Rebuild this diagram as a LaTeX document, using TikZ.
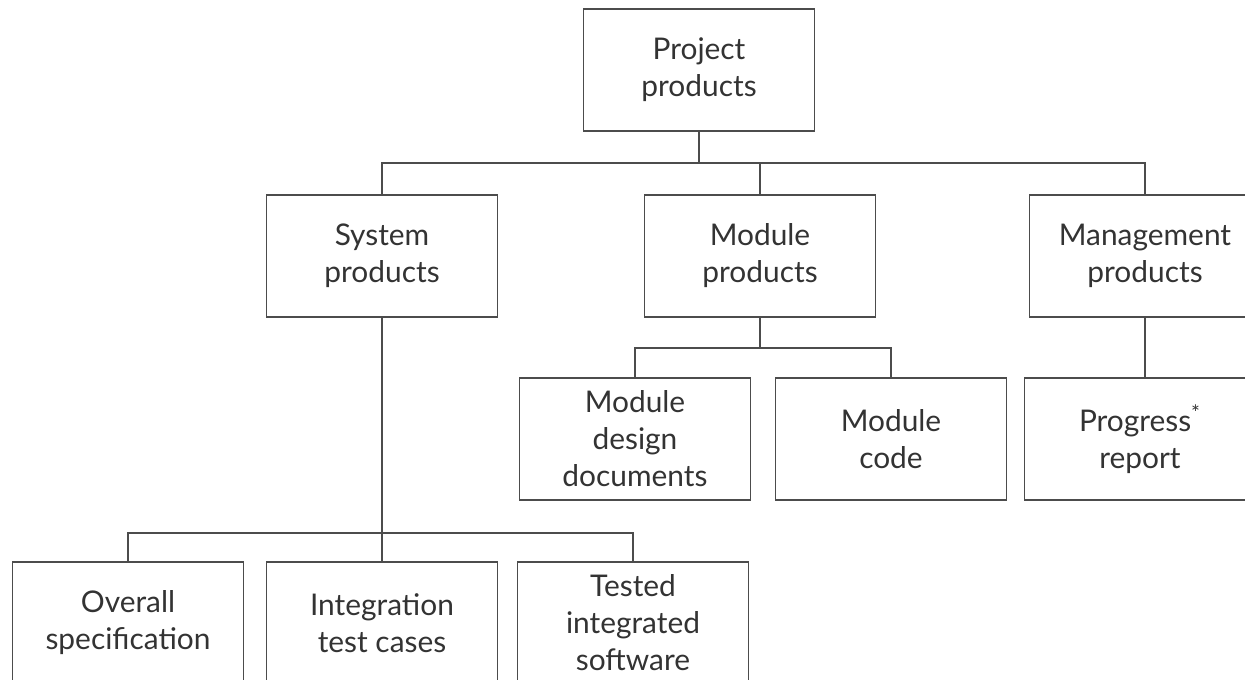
\documentclass[tikz,border=0pt]{standalone}
\usepackage{fontspec}
\setmainfont{Lato}
\usetikzlibrary{calc}
\tikzset{prodbox/.style={draw=black!70, line width=1pt, minimum width=4.62cm, minimum height=2.44cm, align=center, inner sep=0pt, text=black!80, font=\fontsize{17}{21}\selectfont}}
\tikzset{link/.style={draw=black!70, line width=1pt}}

\begin{document}
\begin{tikzpicture}[x=0.02cm,y=-0.02cm]
	\useasboundingbox (0,0) rectangle (1245,680);
	\clip (0,0) rectangle (1245,680);
	\node[prodbox] (proj) at (699,70) {Project\\products};
	\node[prodbox] (sys) at (382,256) {System\\products};
	\node[prodbox] (mod) at (760,256) {Module\\products};
	\node[prodbox] (mgmt) at (1145,256) {Management\\products};
	\node[prodbox] (mdd) at (635,439) {Module\\design\\documents};
	\node[prodbox] (mcode) at (891,439) {Module\\code};
	\node[prodbox] (prog) at (1140,439) {Progress\textsuperscript{*}\\report};
	\node[prodbox] (spec) at (128,623) {Overall\\specification};
	\node[prodbox] (itc) at (382,623) {Integration\\test cases};
	\node[prodbox] (tis) at (633,623) {Tested\\integrated\\software};

	\coordinate (bus1) at (699,163);
	\coordinate (bus2) at (760,348);
	\coordinate (bus3) at (382,533);

	\draw[link] (proj.south) -- (bus1);
	\draw[link] (sys.north) |- (bus1) -| (mgmt.north);
	\draw[link] (bus1 -| mod.north) -- (mod.north);

	\draw[link] (mod.south) -- (bus2);
	\draw[link] (mdd.north) |- (bus2) -| (mcode.north);

	\draw[link] (mgmt.south) -- (prog.north -| mgmt.south);

	\draw[link] (sys.south) -- (bus3);
	\draw[link] (spec.north) |- (bus3) -| (tis.north);
	\draw[link] (bus3) -- (itc.north);
\end{tikzpicture}
\end{document}
